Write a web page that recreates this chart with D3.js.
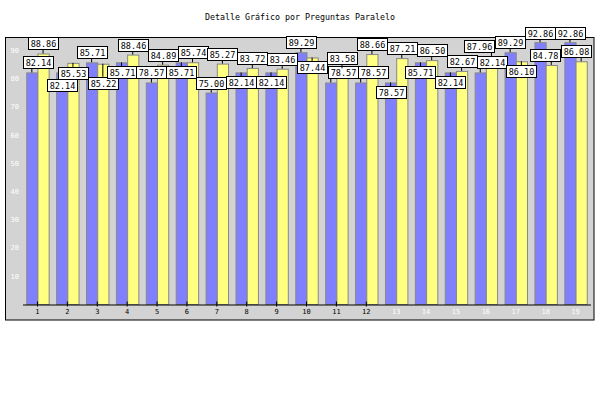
<!DOCTYPE html>
<html><head><meta charset="utf-8">
<script src="https://cdn.jsdelivr.net/npm/d3@7"></script>
<style>body{margin:0;background:#fff}</style>
</head><body>
<svg id="chart" width="600" height="400"></svg>
<script>
const title = "Detalle Gráfico por Preguntas Paralelo";
const categories = ["1","2","3","4","5","6","7","8","9","10","11","12","13","14","15","16","17","18","19"];
const seriesNames = ["serie1","serie2"];
const serie1 = [82.14,82.14,85.71,85.71,78.57,85.71,75.00,82.14,82.14,89.29,78.57,78.57,78.57,85.71,82.14,82.14,89.29,92.86,92.86];
const serie2 = [88.86,85.53,85.22,88.46,84.89,85.74,85.27,83.72,83.46,87.44,83.58,88.66,87.21,86.50,82.67,87.96,86.10,84.78,86.08];
const yTicks = [10,20,30,40,50,60,70,80,90];

const svg = d3.select("#chart");
const mono = "'DejaVu Sans Mono', monospace";

// title
svg.append("text").attr("x", 300).attr("y", 20).attr("text-anchor","middle")
  .style("font-family", mono).style("font-size","8.3px").attr("fill","#000").text(title);

// frame
svg.append("rect").attr("x",5.5).attr("y",37.5).attr("width",588.5).attr("height",282.5)
  .attr("fill","#d3d3d3").attr("stroke","#000").attr("stroke-width",1);

const x0 = d3.scaleBand().domain(categories).range([22.5,590.5]).paddingInner(0.25).paddingOuter(0.125);
const x1 = d3.scaleBand().domain(seriesNames).range([0, x0.bandwidth()]);
const y = d3.scaleLinear().domain([0,94.7]).range([304,37]);
const colors = {serie1:"#8080ff", serie2:"#ffff80"};

const rows = categories.map((c,i)=>({cat:c, vals:[{s:"serie1",v:serie1[i]},{s:"serie2",v:serie2[i]}]}));

const g = svg.append("g");
const groups = g.selectAll("g.cat").data(rows).join("g").attr("class","cat")
  .attr("transform", d=>`translate(${x0(d.cat)},0)`);
groups.selectAll("rect").data(d=>d.vals).join("rect")
  .attr("x", d=>x1(d.s)+0.5).attr("y", d=>y(d.v)+0.5)
  .attr("width", x1.bandwidth()).attr("height", d=>y(0)-y(d.v))
  .attr("fill", d=>colors[d.s]).attr("stroke","#888").attr("stroke-width",1);

// x axis
const xAxis = svg.append("g").attr("transform","translate(0,304.5)")
  .call(d3.axisBottom(x0).tickSize(2).tickSizeOuter(0).tickPadding(3));
xAxis.select(".domain").attr("stroke","#000");
xAxis.selectAll(".tick line").attr("y1",-3).attr("y2",2).attr("stroke","#000");
xAxis.selectAll(".tick text").style("font-family",mono).style("font-size","7px").attr("fill","#000");
xAxis.selectAll(".tick").filter((d,i)=>i>=12).each(function(){
  d3.select(this).select("line").attr("stroke","none");
  d3.select(this).select("text").attr("fill","#fff");
});

// y axis (labels only)
const yAxis = svg.append("g").attr("transform","translate(22,0)")
  .call(d3.axisLeft(y).tickValues(yTicks).tickSize(0).tickPadding(3));
yAxis.select(".domain").remove();
yAxis.selectAll(".tick text").style("font-family",mono).style("font-size","7px").attr("fill","#fff");

// value labels: greedy placement, highest values first
const labels = [];
rows.forEach(r=>{
  r.vals.forEach(d=>{
    const bx = x0(r.cat)+x1(d.s);
    labels.push({v:d.v, s:d.s, cx: bx + x1.bandwidth()/2, top: y(d.v)});
  });
});
const lg = svg.append("g");
const measure = lg.append("text").style("font-family",mono).style("font-size","8.5px").text("00.00");
const tw = measure.node().getComputedTextLength();
measure.remove();
const bw = Math.round(tw+4), bh = 12;
function ov(a,b){
  const w = Math.min(a.x+a.w,b.x+b.w)-Math.max(a.x,b.x)-1;
  const h = Math.min(a.y+a.h,b.y+b.h)-Math.max(a.y,b.y)-1;
  return (w>0&&h>0)?w*h:0;
}
const order = labels.map((l,i)=>i).sort((a,b)=>d3.descending(labels[a].v,labels[b].v)||a-b);
const placed = [];
order.forEach(idx=>{
  const l = labels[idx];
  let best=null;
  ["above","below"].forEach(pos=>{
    [0,3,6,9].forEach(dy=>{
      [0,2,-2,4,-4,6,-6,8,-8,10,-10,12,-12].forEach(dx=>{
        let bxx = l.cx - bw/2 + dx;
        bxx = Math.max(22.5, Math.min(590.5-bw, bxx));
        let byy = pos==="above" ? l.top - 4 - bh - dy : l.top + 4 + dy;
        if (byy < 27) { if (dy>0) return; byy = 27; }
        const box = {x:bxx, y:byy, w:bw, h:bh};
        let score = 0;
        placed.forEach(p=>score += 3*ov(box,p));
        score += Math.abs(dx)*1 + dy*1.2 + (pos==="below"?20:0);
        if(!best || score<best.score) best={box,score,pos};
      });
    });
  });
  placed.push(best.box);
  l.box = best.box; l.pos = best.pos;
});
labels.forEach(l=>{
  const b = l.box;
  const lx = Math.max(b.x+2, Math.min(b.x+b.w-2, l.cx));
  const y2 = l.pos==="above" ? b.y+b.h : b.y;
  lg.append("line").attr("x1",lx).attr("x2",lx).attr("y1",l.top).attr("y2",y2)
    .attr("stroke","#000").attr("stroke-width",1);
  lg.append("rect").attr("x",Math.round(b.x)+0.5).attr("y",Math.round(b.y)+0.5)
    .attr("width",b.w).attr("height",b.h).attr("fill","#fff").attr("stroke","#000");
  lg.append("text").attr("x",Math.round(b.x)+0.5+b.w/2).attr("y",Math.round(b.y)+0.5+b.h/2)
    .attr("text-anchor","middle").attr("dominant-baseline","central")
    .style("font-family",mono).style("font-size","8.5px").attr("fill","#000")
    .text(l.v.toFixed(2));
});
</script>
</body></html>
